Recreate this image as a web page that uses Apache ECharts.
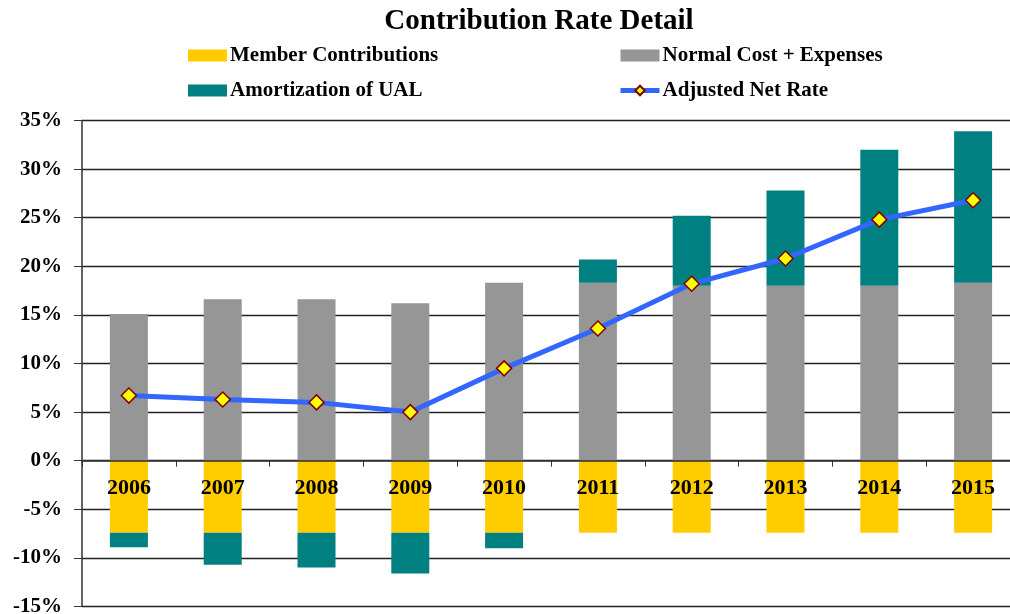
<!DOCTYPE html>
<html>
<head>
<meta charset="utf-8">
<script src="https://cdn.jsdelivr.net/npm/echarts@6/dist/echarts.min.js"></script>
<style>
html,body{margin:0;padding:0;background:#fff;}
#chart{width:1010px;height:614px;}
</style>
</head>
<body>
<div id="chart"></div>
<script>
const years = ['2006','2007','2008','2009','2010','2011','2012','2013','2014','2015'];
const memberContributions = [-7.4,-7.4,-7.4,-7.4,-7.4,-7.4,-7.4,-7.4,-7.4,-7.4];
const normalCost = [15.1,16.6,16.6,16.2,18.3,18.3,18.0,18.0,18.0,18.3];
const amortizationUAL = [-1.5,-3.3,-3.6,-4.2,-1.6,2.4,7.2,9.8,14.0,15.6];
const adjustedNetRate = [6.7,6.3,6.0,5.0,9.5,13.6,18.2,20.8,24.8,26.8];

const FONT = "'Liberation Serif','Times New Roman',serif";
const legendText = { fontFamily: FONT, fontWeight: 'bold', fontSize: 21, color: '#000', padding: [0,0,0,-2] };
const chart = echarts.init(document.getElementById('chart'));
chart.setOption({
  animation: false,
  title: {
    text: 'Contribution Rate Detail',
    left: 539, textAlign: 'center', top: 7, padding: 0,
    textStyle: { fontFamily: FONT, fontWeight: 'bold', fontSize: 29, color: '#000' }
  },
  legend: [
    {
      data: [{ name: 'Member Contributions', icon: 'rect' }, { name: 'Amortization of UAL', icon: 'rect' }],
      orient: 'vertical', left: 188, top: 45, itemGap: 14, padding: 0,
      itemWidth: 39, itemHeight: 12,
      textStyle: legendText
    },
    {
      data: [{ name: 'Normal Cost + Expenses', icon: 'rect' }, 'Adjusted Net Rate'],
      orient: 'vertical', left: 618, top: 45, itemGap: 14, padding: 0,
      itemWidth: 39, itemHeight: 12,
      lineStyle: { width: 5 },
      textStyle: legendText
    }
  ],
  grid: { left: 82, right: -10, top: 120.5, bottom: 7.5, containLabel: false, outerBoundsMode: 'none' },
  xAxis: {
    type: 'category',
    data: years,
    offset: -145.8,
    axisLine: { onZero: false, lineStyle: { color: '#333', width: 1.5 } },
    axisTick: { show: true, length: 6, inside: false, lineStyle: { color: '#333' } },
    axisLabel: { margin: 17, fontFamily: FONT, fontWeight: 'bold', fontSize: 22, color: '#000' },
    z: 10
  },
  yAxis: {
    type: 'value',
    min: -15, max: 35, interval: 5,
    axisLine: { show: true, lineStyle: { color: '#333', width: 1.5 } },
    axisTick: { show: true, length: 8, lineStyle: { color: '#333' } },
    axisLabel: { formatter: '{value}%', margin: 20, fontFamily: FONT, fontWeight: 'bold', fontSize: 21, color: '#000' },
    splitLine: { show: true, lineStyle: { color: '#222', width: 1.3 } }
  },
  series: [
    {
      name: 'Member Contributions', type: 'bar', stack: 'a', barWidth: 38,
      data: memberContributions, itemStyle: { color: '#FFCC00' }
    },
    {
      name: 'Normal Cost + Expenses', type: 'bar', stack: 'a', barWidth: 38,
      data: normalCost, itemStyle: { color: '#969696' }
    },
    {
      name: 'Amortization of UAL', type: 'bar', stack: 'a', barWidth: 38,
      data: amortizationUAL, itemStyle: { color: '#008080' }
    },
    {
      name: 'Adjusted Net Rate', type: 'line', data: adjustedNetRate, z: 20,
      symbol: 'diamond', symbolSize: 15,
      lineStyle: { color: '#3366FF', width: 5 },
      itemStyle: { color: '#FFFF00', borderColor: '#800000', borderWidth: 1.5 }
    }
  ]
});
</script>
</body>
</html>
